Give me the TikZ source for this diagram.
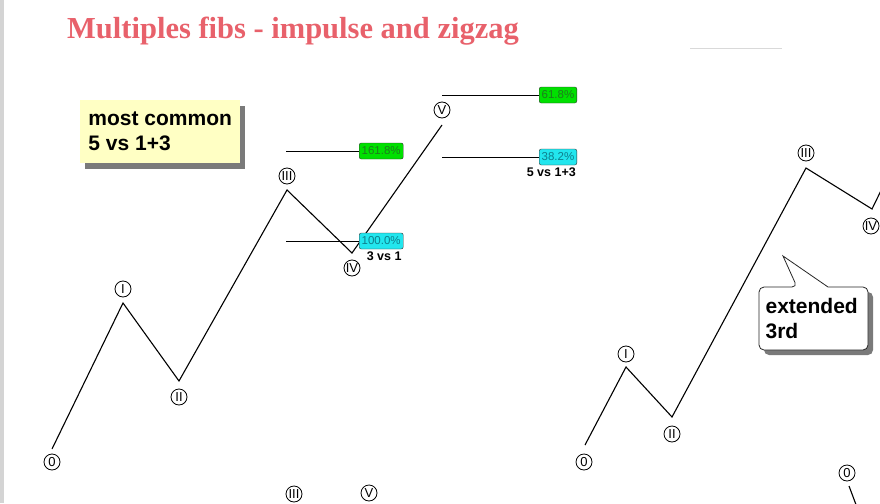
\documentclass[tikz,border=0pt]{standalone}
\usepackage{fontspec}
\setsansfont{Liberation Sans}
\newfontfamily\titlefont{Liberation Serif}
\usetikzlibrary{positioning,shadows}
\definecolor{titlered}{HTML}{E8616B}
\definecolor{stripgray}{HTML}{D4D4D4}
\definecolor{fibgreen}{HTML}{00E000}
\definecolor{fibgreentext}{HTML}{1E7B1E}
\definecolor{fibcyan}{HTML}{22E6EE}
\definecolor{fibcyantext}{HTML}{0E7F8C}
\definecolor{notebg}{HTML}{FFFFC4}
\definecolor{shadowgray}{HTML}{7A7A7A}

\begin{document}
\begin{tikzpicture}[x=1pt, y=-1pt,
    wave/.style={draw, circle, line width=0.8pt, inner sep=0pt, minimum size=16pt, fill=white, font=\sffamily\fontsize{13}{13}\selectfont},
    leg/.style={line width=1.1pt, line join=miter},
    fibline/.style={line width=1pt},
    fibg/.style={draw=black!80, rounded corners=2pt, fill=fibgreen, text=fibgreentext, minimum height=16pt, inner xsep=2.5pt, inner ysep=1pt, font=\sffamily\fontsize{11.5}{11.5}\selectfont},
    fibc/.style={fibg, fill=fibcyan, text=fibcyantext},
    ratio/.style={font=\sffamily\bfseries\fontsize{12.5}{12.5}\selectfont, inner sep=1pt},
    note/.style={font=\sffamily\bfseries\fontsize{21}{25}\selectfont, align=left, anchor=north west, inner sep=5pt, minimum height=63pt}
]
    \useasboundingbox (0,0) rectangle (880,503);
    \fill[stripgray] (0,0) rectangle (4,503);
    \draw[black!15, line width=1.5pt] (690,48.5) -- (782,48.5);

    \node[anchor=base west, text=titlered, font=\titlefont\bfseries\fontsize{30.5}{30.5}\selectfont, inner sep=0pt] (title) at (67,39) {Multiples fibs - impulse and zigzag};

    \node[note, fill=notebg, minimum width=160pt, drop shadow={shadow xshift=5pt, shadow yshift=-6pt, fill=shadowgray, opacity=1}] (common) at (80,100) {most common\\5 vs 1+3};

    \coordinate (p0) at (52,449);
    \coordinate (p1) at (123,303);
    \coordinate (p2) at (179,381);
    \coordinate (p3) at (287,190);
    \coordinate (p4) at (352,253);
    \coordinate (p5) at (442,125);
    \draw[leg] (p0) -- (p1) -- (p2) -- (p3) -- (p4) -- (p5);

    \node[wave] (w0) at (52,462) {0};
    \node[wave] (w1) at (123,289) {I};
    \node[wave] (w2) at (179,397) {II};
    \node[wave] (w3) at (287,176) {III};
    \node[wave] (w4) at (352,268) {IV};
    \node[wave] (w5) at (442,110) {V};

    \coordinate (f161) at (286,151);
    \coordinate (f100) at (286,241);
    \coordinate (f61) at (442,95);
    \coordinate (f38) at (442,157);
    \node[fibg, anchor=west] (b161) at (359,151) {161.8\%};
    \node[fibc, anchor=west] (b100) at (359,241) {100.0\%};
    \node[fibg, anchor=west] (b61) at (539,95) {61.8\%};
    \node[fibc, anchor=west] (b38) at (539,157) {38.2\%};
    \draw[fibline] (f161) -- (b161);
    \draw[fibline] (f100) -- (b100);
    \draw[fibline] (f61) -- (b61);
    \draw[fibline] (f38) -- (b38);
    \node[ratio, below=1pt of b100, xshift=3pt] (r31) {3 vs 1};
    \node[ratio, below=1pt of b38.south east, anchor=north east] (r513) {5 vs 1+3};

    \coordinate (q0) at (585,445);
    \coordinate (q1) at (626,367);
    \coordinate (q2) at (672,417);
    \coordinate (q3) at (806,168);
    \coordinate (q4) at (872,209);
    \coordinate (q5) at (892,168);
    \draw[leg] (q0) -- (q1) -- (q2) -- (q3) -- (q4) -- (q5);

    \node[wave] (v0) at (584,462) {0};
    \node[wave] (v1) at (626,354) {I};
    \node[wave] (v2) at (672,434) {II};
    \node[wave] (v3) at (806,153) {III};
    \node[wave] (v4) at (871,226) {IV};

    \fill[shadowgray, shift={(5pt,-5pt)}] (759,318) [rounded corners=5pt] -- (759,287) -- (797,287) [sharp corners] -- (783,256) -- (828,287) [rounded corners=5pt] -- (868,287) -- (868,350) -- (759,350) -- cycle;
    \draw[fill=white, line width=0.8pt, draw=black!85] (759,318) [rounded corners=5pt] -- (759,287) -- (797,287) [sharp corners] -- (783,256) -- (828,287) [rounded corners=5pt] -- (868,287) -- (868,350) -- (759,350) -- cycle;
    \node[note, minimum width=109pt] (ext) at (757,287) {extended\\3rd};

    \coordinate (z0) at (849,486);
    \coordinate (z1) at (858,510);
    \draw[leg] (z0) -- (z1);
    \node[wave] (u0) at (847,473) {0};

    \node[wave] (t3) at (294,494) {III};
    \node[wave] (t5) at (369,493) {V};
\end{tikzpicture}
\end{document}
